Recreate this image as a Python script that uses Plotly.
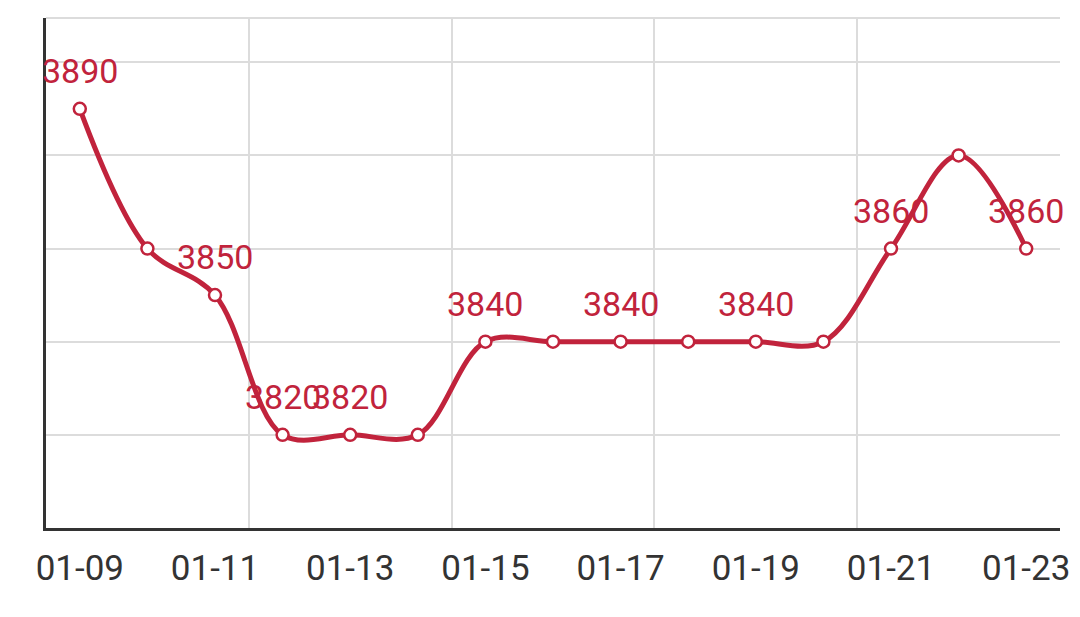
import plotly.graph_objects as go

dates = ["01-09", "01-10", "01-11", "01-12", "01-13", "01-14", "01-15", "01-16",
         "01-17", "01-18", "01-19", "01-20", "01-21", "01-22", "01-23"]
values = [3890, 3860, 3850, 3820, 3820, 3820, 3840, 3840,
          3840, 3840, 3840, 3840, 3860, 3880, 3860]
label_idx = [0, 2, 3, 4, 6, 8, 10, 12, 14]
tick_idx = [0, 2, 4, 6, 8, 10, 12, 14]
y_grid = [3820, 3840, 3860, 3880, 3900]
y_min, y_max = 3800, 3909.5

RED = "#c1233c"
GRID = "#dcdcdc"
FONT = "Roboto"

x = list(range(len(dates)))

fig = go.Figure()
fig.add_trace(go.Scatter(
    x=x, y=values, mode="lines+markers",
    line=dict(color=RED, width=5, shape="spline", smoothing=1),
    marker=dict(size=12, color="white", line=dict(color=RED, width=2.5)),
    hoverinfo="skip", showlegend=False,
))

for i in label_idx:
    fig.add_annotation(x=x[i], y=values[i], text=str(values[i]), showarrow=False,
                       yshift=38, font=dict(family=FONT, size=34, color=RED))

# the page body adds an 8px margin, so the figure is 8px smaller than the window
fig.update_layout(
    width=1072, height=609,
    margin=dict(l=38, r=20, t=10, b=89),
    plot_bgcolor="white", paper_bgcolor="white",
    font=dict(family=FONT, size=34, color="#333333"),
    xaxis=dict(
        range=[-0.5, len(dates) - 0.5],
        tickmode="array", tickvals=[x[i] for i in tick_idx],
        ticktext=[dates[i] for i in tick_idx],
        showgrid=False, zeroline=False,
        showline=True, linecolor="#333333", linewidth=3,
        ticks="", ticklabelstandoff=7,
        tickfont=dict(family=FONT, size=35, color="#333333"),
        minor=dict(tickmode="array", tickvals=[2.5, 5.5, 8.5, 11.5, 14.5],
                   showgrid=True, gridcolor=GRID, gridwidth=2, ticks=""),
    ),
    yaxis=dict(
        range=[y_min, y_max],
        tickmode="array", tickvals=y_grid, showticklabels=False,
        showgrid=True, gridcolor=GRID, gridwidth=2, zeroline=False,
        showline=True, linecolor="#333333", linewidth=3, ticks="",
    ),
    shapes=[dict(type="line", xref="paper", yref="paper", x0=0, x1=1, y0=1, y1=1,
                 line=dict(color=GRID, width=2), layer="below")],
)

fig.write_html("out.html")
